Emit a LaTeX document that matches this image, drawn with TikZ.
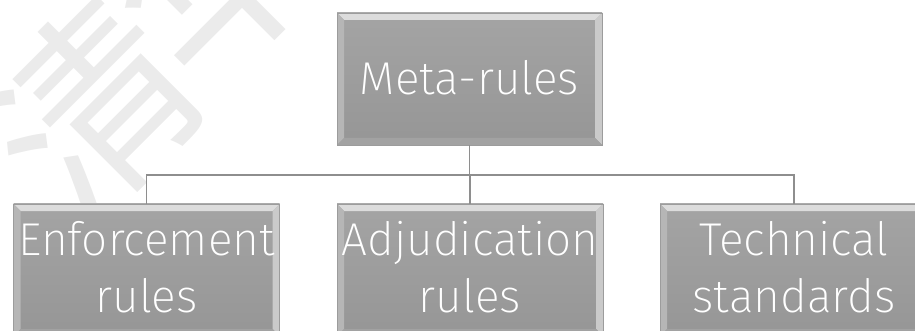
\documentclass[tikz,border=0pt]{standalone}
\usepackage{fontspec}
\setmainfont{Fira Sans}[UprightFont=* ExtraLight]
\newfontfamily\cjkwm{Noto Sans CJK SC}
\definecolor{facetop}{HTML}{A4A4A4}
\definecolor{facebot}{HTML}{969696}
\definecolor{bevtop}{HTML}{DCDCDC}
\definecolor{bevleft}{HTML}{B6B6B6}
\definecolor{bevright}{HTML}{CACACA}
\definecolor{bevbot}{HTML}{A2A2A2}
\definecolor{edgecol}{HTML}{9C9C9C}
\definecolor{linecol}{HTML}{8E8E8E}
\definecolor{wmcol}{HTML}{EBEBEB}
\tikzset{
  rulebox/.style={rectangle, minimum width=266pt, minimum height=132pt, inner sep=0pt,
    top color=facetop, bottom color=facebot, draw=edgecol, line width=0.8pt,
    path picture={
      \coordinate (pa) at (path picture bounding box.north west);
      \coordinate (pb) at (path picture bounding box.north east);
      \coordinate (pc) at (path picture bounding box.south east);
      \coordinate (pd) at (path picture bounding box.south west);
      \fill[bevtop] (pa) -- (pb) -- ([shift={(-7pt,-7pt)}]pb) -- ([shift={(7pt,-7pt)}]pa) -- cycle;
      \fill[bevleft] (pa) -- ([shift={(7pt,-7pt)}]pa) -- ([shift={(7pt,7pt)}]pd) -- (pd) -- cycle;
      \fill[bevright] (pb) -- ([shift={(-7pt,-7pt)}]pb) -- ([shift={(-7pt,7pt)}]pc) -- (pc) -- cycle;
      \fill[bevbot] (pd) -- ([shift={(7pt,7pt)}]pd) -- ([shift={(-7pt,7pt)}]pc) -- (pc) -- cycle;
    }},
  boxtext/.style={inner sep=0pt, text=white, font=\fontsize{46}{57}\selectfont, anchor=base},
  conn/.style={draw=linecol, line width=1.3pt},
  wmark/.style={text=wmcol, font=\cjkwm\fontsize{200}{200}\selectfont, inner sep=0pt, rotate=45}
}
\begin{document}
\begin{tikzpicture}[x=1pt,y=-1pt]
\useasboundingbox (0,0) rectangle (915,331);
\clip (0,0) rectangle (915,331);
\node[wmark] (wm1) at (92,108) {清};
\node[wmark] (wm2) at (215,-30) {华};
% boxes
\node[rulebox, minimum width=265pt] (meta) at (469.5,79) {};
\node[rulebox] (enf) at (146.5,270) {};
\node[rulebox] (adj) at (470,270) {};
\node[rulebox, minimum width=268pt] (tech) at (794,270) {};
% texts
\node[boxtext] (metat) at (469.5,95) {Meta-rules};
\node[boxtext] (enft1) at (146.5,255) {Enforcement};
\node[boxtext] (enft2) at (146.5,312) {rules};
\node[boxtext] (adjt1) at (470,255) {Adjudication};
\node[boxtext] (adjt2) at (470,312) {rules};
\node[boxtext] (techt1) at (794,255) {Technical};
\node[boxtext] (techt2) at (794,312) {standards};
% connectors
\coordinate (bus) at (469.5,175);
\draw[conn] (meta.south) -- (bus);
\draw[conn] (enf.north) -- (enf.north |- bus) -- (tech.north |- bus) -- (tech.north);
\draw[conn] (adj.north) -- (adj.north |- bus);
\end{tikzpicture}
\end{document}
